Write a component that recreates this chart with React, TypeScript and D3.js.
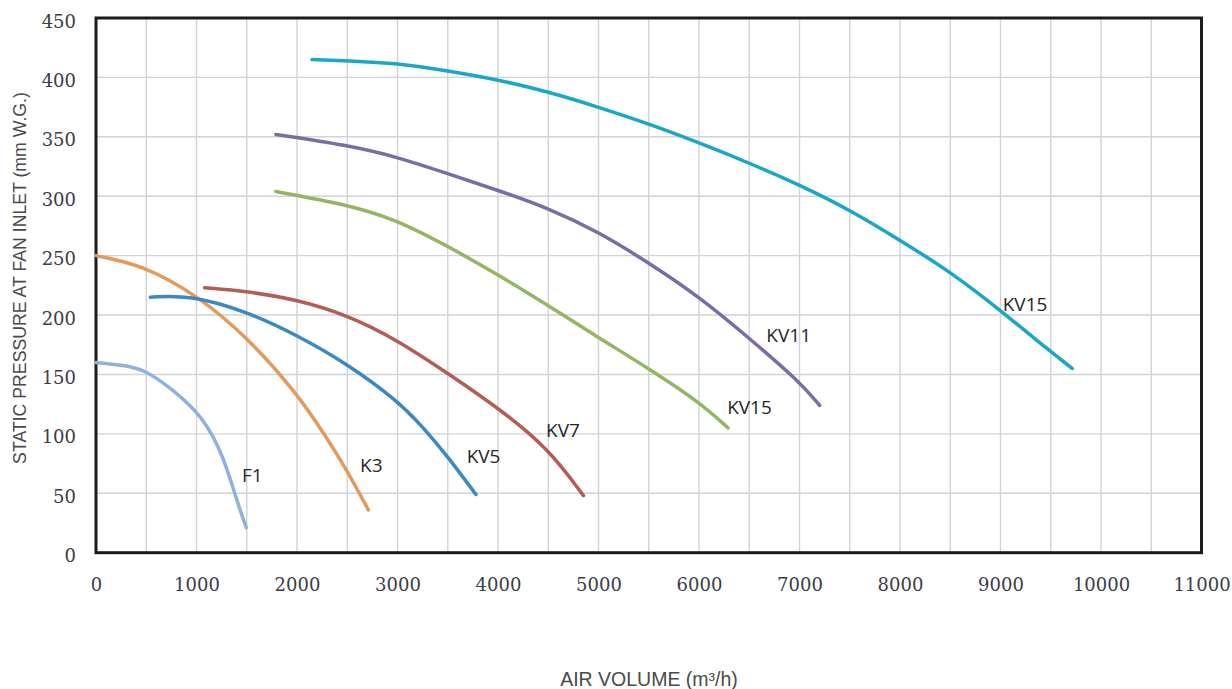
import React, { useEffect, useRef } from 'react';
import * as d3 from 'd3';

type Pt = [number, number];

// fan curves: [air volume m3/h, static pressure mmWG]
const f1: Pt[] = [[0, 160], [250, 158], [470, 155], [770, 137], [1070, 114], [1270, 81], [1400, 44], [1495, 21]];
const k3: Pt[] = [[0, 250], [470, 242], [1000, 217], [1500, 182], [2000, 134], [2270, 100], [2500, 69], [2710, 36]];
const kv5: Pt[] = [[540, 215], [930, 217], [1500, 203], [2000, 183], [2500, 159], [3000, 128], [3250, 106], [3500, 81], [3780, 49]];
const kv7: Pt[] = [[1080, 223], [1500, 220], [2000, 213], [2500, 200], [3000, 179], [3500, 151], [4000, 122], [4500, 88], [4850, 48]];
const kv15a: Pt[] = [[1790, 304], [2500, 293], [3000, 280], [3500, 258], [4000, 234], [4500, 208], [5000, 181], [5500, 155], [6000, 127], [6290, 105]];
const kv11: Pt[] = [[1790, 352], [2500, 343], [3000, 333], [3500, 319], [4000, 305], [4500, 290], [5000, 270], [5500, 244], [6000, 215.5], [6500, 180.5], [7000, 144], [7200, 124]];
const kv15b: Pt[] = [[2150, 415], [2500, 414], [3000, 412], [3500, 405.5], [4000, 398], [4500, 388], [5000, 375], [5500, 361], [6000, 345], [6500, 328], [7000, 309.5], [7500, 288.5], [8000, 263], [8500, 236.5], [9000, 204], [9500, 169], [9715, 155]];

const seriesData = [f1, k3, kv5, kv7, kv15a, kv11, kv15b];
const seriesColors = ['#8fb2dc', '#e39a5b', '#3b88c2', '#b35d55', '#93b564', '#7b6ca3', '#1aa6c9'];

// curve labels, anchored at their left/baseline in data units
const labelNames = ['F1', 'K3', 'KV5', 'KV7', 'KV15', 'KV11', 'KV15'];
const labelX = [1453, 2627, 3688, 4478, 6280, 6670, 9022];
const labelY = [59.5, 68, 75.8, 97.6, 116.8, 177, 203];

const xTicks = [0, 1000, 2000, 3000, 4000, 5000, 6000, 7000, 8000, 9000, 10000, 11000];
const yTicks = [0, 50, 100, 150, 200, 250, 300, 350, 400, 450];

const App: React.FC = () => {
  const chartRef = useRef<SVGSVGElement>(null);

  useEffect(() => {
    const svg = d3.select(chartRef.current);
    svg.selectAll('*').remove();

    const x = d3.scaleLinear().domain([0, 11000]).range([96, 1201.5]);
    const y = d3.scaleLinear().domain([0, 450]).range([552.7, 18]);

    // grid
    const grid = svg.append('g').attr('stroke', '#d2d3d8').attr('stroke-width', 1.4);
    grid.selectAll('.vx')
      .data(d3.range(500, 11000, 500))
      .enter().append('line')
      .attr('x1', d => x(d)).attr('x2', d => x(d))
      .attr('y1', y(450)).attr('y2', y(0));
    grid.selectAll('.hy')
      .data(yTicks.slice(1, -1))
      .enter().append('line')
      .attr('x1', x(0)).attr('x2', x(11000))
      .attr('y1', d => y(d)).attr('y2', d => y(d));

    // frame
    svg.append('rect')
      .attr('x', x(0)).attr('y', y(450))
      .attr('width', x(11000) - x(0)).attr('height', y(0) - y(450))
      .attr('fill', 'none').attr('stroke', '#1c1c1c').attr('stroke-width', 3);

    // tick labels
    svg.append('g')
      .attr('transform', `translate(0,${y(0) + 38})`)
      .call(d3.axisBottom(x).tickValues(xTicks).tickSize(0).tickPadding(0).tickFormat(d3.format('d')))
      .call(g => g.select('.domain').remove())
      .selectAll('text')
      .attr('dy', 0)
      .attr('font-family', 'DejaVu Serif')
      .attr('font-size', 18)
      .attr('fill', '#3c3c46');

    svg.append('g')
      .attr('transform', `translate(76,0)`)
      .call(d3.axisLeft(y).tickValues(yTicks).tickSize(0).tickPadding(0))
      .call(g => g.select('.domain').remove())
      .selectAll('text')
      .attr('dy', '0.5em')
      .attr('font-family', 'DejaVu Serif')
      .attr('font-size', 18)
      .attr('fill', '#3c3c46');

    // curves (b-spline smooths the hand-read points)
    const line = d3.line<Pt>()
      .x(d => x(d[0]))
      .y(d => y(d[1]))
      .curve(d3.curveBasis);

    svg.selectAll('.curve')
      .data(seriesData)
      .enter().append('path')
      .attr('class', 'curve')
      .attr('d', d => line(d))
      .attr('fill', 'none')
      .attr('stroke', (_, i) => seriesColors[i])
      .attr('stroke-width', 3.5)
      .attr('stroke-linecap', 'round');

    svg.selectAll('.lbl')
      .data(labelNames)
      .enter().append('text')
      .attr('x', (_, i) => x(labelX[i]))
      .attr('y', (_, i) => y(labelY[i]))
      .attr('font-family', 'Open Sans')
      .attr('font-size', 19)
      .attr('fill', '#262626')
      .text(d => d);

    // axis titles
    svg.append('text')
      .attr('x', 649).attr('y', 686)
      .attr('text-anchor', 'middle')
      .attr('font-family', 'Liberation Sans')
      .attr('font-size', 19.5)
      .attr('fill', '#4a4a4a')
      .text('AIR VOLUME (m³/h)');

    svg.append('text')
      .attr('transform', 'translate(26,278) rotate(-90)')
      .attr('text-anchor', 'middle')
      .attr('font-family', 'Liberation Sans')
      .attr('font-size', 17.7)
      .attr('fill', '#4a4a4a')
      .text('STATIC PRESSURE AT FAN INLET (mm W.G.)');
  }, []);

  return (
    <svg ref={chartRef} width="1232" height="689"
      style={{ position: 'absolute', left: 0, top: 0, background: '#fff' }}></svg>
  );
};

export default App;
